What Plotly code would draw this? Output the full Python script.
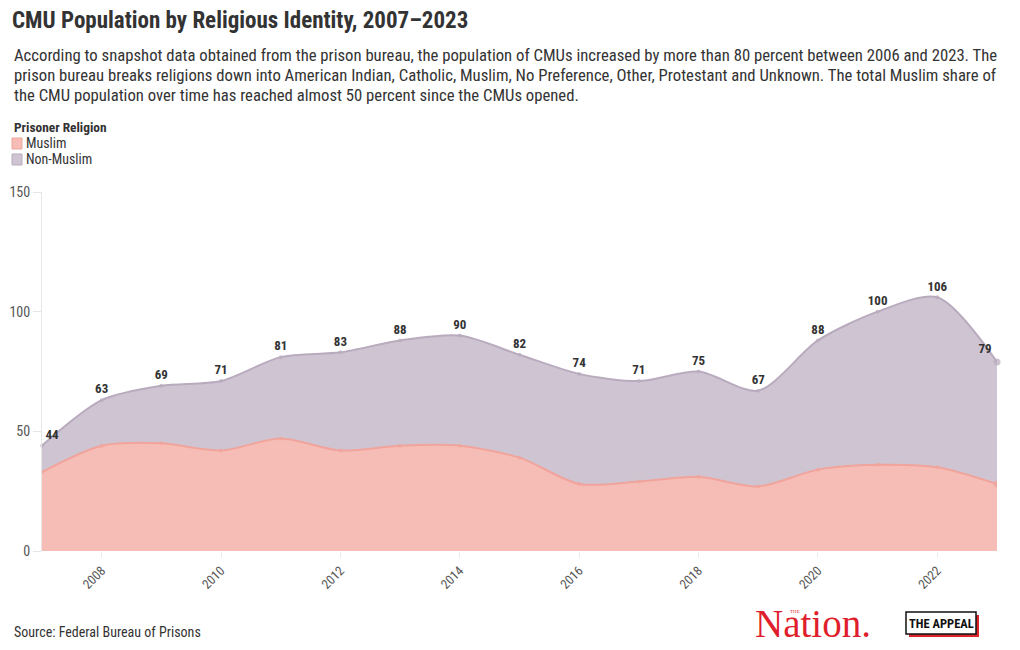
import plotly.graph_objects as go

years = list(range(2007, 2024))
total = [44, 63, 69, 71, 81, 83, 88, 90, 82, 74, 71, 75, 67, 88, 100, 106, 79]
muslim = [33, 44, 45, 42, 47, 42, 44, 44, 39, 28, 29, 31, 27, 34, 36, 35, 28]
non_muslim = [t - m for t, m in zip(total, muslim)]
x_ticks = [2008, 2010, 2012, 2014, 2016, 2018, 2020, 2022]
y_ticks = [0, 50, 100, 150]

FONT = "Roboto Condensed, Liberation Sans Narrow, Roboto, sans-serif"
W, H = 1020, 650
L, R, T, B = 42, 23, 192, 99
PW, PH = W - L - R, H - T - B

MUS_LINE, MUS_FILL = "#f0a49b", "#f6bdb6"
NON_LINE, NON_FILL = "#b9abbe", "#cfc5d2"


def px(x):
    return (x - L) / PW


def py(y):
    return (H - B - y) / PH


n = len(years)
mk = [4] * (n - 1) + [7]
tpos = ["top right"] + ["top center"] * (n - 2) + ["top left"]

fig = go.Figure()
fig.add_trace(go.Scatter(
    x=years, y=muslim, name="Muslim", stackgroup="one",
    line=dict(shape="spline", color=MUS_LINE, width=2, smoothing=0.8),
    fillcolor=MUS_FILL,
    mode="lines+markers", marker=dict(size=mk, color=MUS_LINE, line=dict(width=0)),
    hoverinfo="skip", showlegend=False,
))
fig.add_trace(go.Scatter(
    x=years, y=non_muslim, name="Non-Muslim", stackgroup="one",
    line=dict(shape="spline", color=NON_LINE, width=2, smoothing=0.8),
    fillcolor=NON_FILL,
    mode="lines+markers+text", marker=dict(size=mk, color=NON_LINE, line=dict(width=0)),
    text=[str(t) for t in total], textposition=tpos,
    textfont=dict(family=FONT, size=13, color="#333333", weight="bold"),
    cliponaxis=False, hoverinfo="skip", showlegend=False,
))

fig.update_layout(
    width=W, height=H,
    margin=dict(l=L, r=R, t=T, b=B, autoexpand=False),
    paper_bgcolor="white", plot_bgcolor="white",
    font=dict(family=FONT, color="#333333"),
    title=dict(text="<b>CMU Population by Religious Identity, 2007–2023</b>",
               x=12 / W, xanchor="left", y=1 - 20 / H, yanchor="middle",
               xref="container", yref="container",
               font=dict(family=FONT, size=23, color="#333333")),
    xaxis=dict(range=[2007, 2023], tickvals=x_ticks, ticktext=[str(v) for v in x_ticks],
               tickangle=-45, showgrid=False, zeroline=False, showline=False,
               ticks="outside", ticklen=6, tickcolor="#ececec",
               tickfont=dict(family=FONT, size=13, color="#555555")),
    yaxis=dict(range=[0, 150], tickvals=y_ticks, showgrid=False, zeroline=False,
               showline=True, linecolor="#e6e6e6", linewidth=1,
               ticks="outside", ticklen=8, tickcolor="#e6e6e6",
               tickfont=dict(family=FONT, size=14, color="#555555")),
    showlegend=False,
)

sub_lines = [
    "According to snapshot data obtained from the prison bureau, the population of CMUs increased by more than 80 percent between 2006 and 2023. The",
    "prison bureau breaks religions down into American Indian, Catholic, Muslim, No Preference, Other, Protestant and Unknown. The total Muslim share of",
    "the CMU population over time has reached almost 50 percent since the CMUs opened.",
]
for i, line in enumerate(sub_lines):
    fig.add_annotation(text=line, xref="paper", yref="paper", x=px(12), y=py(55 + 20 * i),
                       xanchor="left", yanchor="middle", showarrow=False,
                       font=dict(family=FONT, size=16.7, color="#333333"))

# legend (built from text + swatches)
fig.add_annotation(text="<b>Prisoner Religion</b>", xref="paper", yref="paper",
                   x=px(12), y=py(127), xanchor="left", yanchor="middle", showarrow=False,
                   font=dict(family=FONT, size=13.4, color="#333333"))
legend_items = [("Muslim", MUS_FILL, MUS_LINE, 143), ("Non-Muslim", NON_FILL, NON_LINE, 159)]
for name, fc, lc, yy in legend_items:
    fig.add_shape(type="rect", xref="paper", yref="paper",
                  x0=px(12), x1=px(22), y0=py(yy + 6), y1=py(yy - 5),
                  fillcolor=fc, line=dict(color=lc, width=1))
    fig.add_annotation(text=name, xref="paper", yref="paper",
                       x=px(24), y=py(yy), xanchor="left", yanchor="middle", showarrow=False,
                       font=dict(family=FONT, size=13.9, color="#333333"))

fig.add_annotation(text="Source: Federal Bureau of Prisons", xref="paper", yref="paper",
                   x=px(12), y=py(632), xanchor="left", yanchor="middle", showarrow=False,
                   font=dict(family=FONT, size=14, color="#333333"))

# logos
fig.add_annotation(text="Nation.", xref="paper", yref="paper", x=px(813), y=py(623),
                   xanchor="center", yanchor="middle", showarrow=False,
                   font=dict(family="Liberation Serif, DejaVu Serif, serif", size=39, color="#e01f2d"))
fig.add_annotation(text="THE", xref="paper", yref="paper", x=px(795), y=py(611),
                   xanchor="center", yanchor="middle", showarrow=False,
                   font=dict(family="Liberation Serif, serif", size=5, color="#e01f2d"))
fig.add_shape(type="rect", xref="paper", yref="paper", layer="below",
              x0=px(909), x1=px(979), y0=py(637), y1=py(615),
              fillcolor="#d9262c", line=dict(width=0))
fig.add_shape(type="rect", xref="paper", yref="paper", layer="below",
              x0=px(906), x1=px(976), y0=py(634), y1=py(612),
              fillcolor="white", line=dict(color="#111111", width=1.5))
fig.add_annotation(text="<b>THE APPEAL</b>", xref="paper", yref="paper", x=px(941), y=py(623),
                   xanchor="center", yanchor="middle", showarrow=False,
                   font=dict(family=FONT, size=12.5, color="#111111"))

fig.write_html("out.html", config={"displayModeBar": False},
               post_script="document.body.style.margin='0';")
